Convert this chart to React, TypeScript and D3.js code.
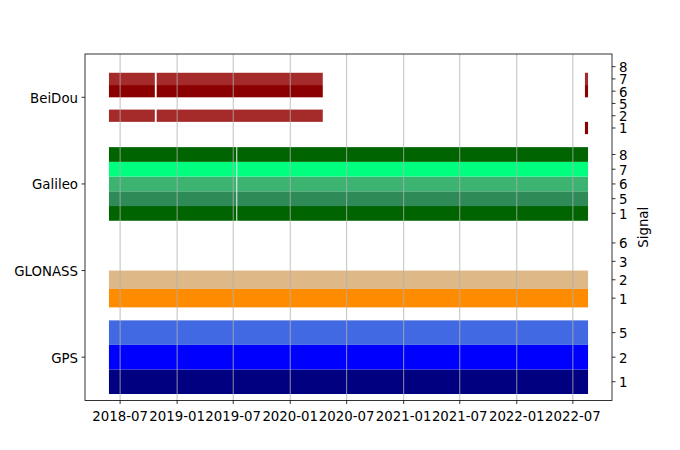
import React from "react";
import * as d3 from "d3";

const constellations = ["GPS", "GLONASS", "Galileo", "BeiDou"];

const gpsSignals = ["1", "2", "5"];
const glonassSignals = ["1", "2", "3", "6"];
const galileoSignals = ["1", "5", "6", "7", "8"];
const beidouSignals = ["1", "2", "5", "6", "7", "8"];

const gpsColors = ["#000080", "#0000ff", "#4169e1"];
const glonassColors = ["#ff8c00", "#deb887", "#cccccc", "#cccccc"];
const galileoColors = ["#006400", "#2e8b57", "#3cb371", "#00ff7f", "#006400"];
const beidouColors = ["#8b0000", "#a52a2a", "#cccccc", "#8b0000", "#a52a2a", "#cccccc"];

const fullPeriod = [["2018-05-26", "2022-08-19"]];
const galileoPeriods = [["2018-05-26", "2019-07-11"], ["2019-07-14", "2022-08-19"]];
const beidouEarly = [["2018-05-26", "2018-10-21"], ["2018-10-27", "2020-04-15"]];
const beidouLate = [["2022-08-09", "2022-08-19"]];
const none: string[][] = [];

const gpsPeriods = [fullPeriod, fullPeriod, fullPeriod];
const glonassPeriods = [fullPeriod, fullPeriod, none, none];
const galileoRowPeriods = [galileoPeriods, galileoPeriods, galileoPeriods, galileoPeriods, galileoPeriods];
const beidouPeriods = [beidouLate, beidouEarly, none, [...beidouEarly, ...beidouLate], [...beidouEarly, ...beidouLate], none];

const groupSignals = [gpsSignals, glonassSignals, galileoSignals, beidouSignals];
const groupColors = [gpsColors, glonassColors, galileoColors, beidouColors];
const groupPeriods = [gpsPeriods, glonassPeriods, galileoRowPeriods, beidouPeriods];

const W = 680, H = 450;
const L = 85, R = 612, T = 54, B = 400.5;
const BAND = 0.85;
const FONT = "DejaVu Sans, sans-serif";

export default function App() {
  const parse = d3.utcParse("%Y-%m-%d");
  const allDates: Date[] = [];
  groupPeriods.forEach(g => g.forEach(rows => rows.forEach(p => { allDates.push(parse(p[0])!); allDates.push(parse(p[1])!); })));
  const [dmin, dmax] = d3.extent(allDates) as [Date, Date];
  const pad = (dmax.getTime() - dmin.getTime()) * 0.05;
  const x = d3.scaleUtc().domain([new Date(dmin.getTime() - pad), new Date(dmax.getTime() + pad)]).range([L, R]);
  const y = d3.scaleLinear().domain([-0.5, constellations.length - 0.5]).range([B, T]);
  const xTicks = x.ticks(d3.utcMonth.every(6)!);
  const fmt = d3.utcFormat("%Y-%m");

  const rects: JSX.Element[] = [];
  const rightTicks: { y: number; label: string }[] = [];
  constellations.forEach((c, gi) => {
    const sigs = groupSignals[gi];
    const n = sigs.length;
    const bottom = gi - BAND / 2;
    const step = BAND / n;
    sigs.forEach((s, si) => {
      const y0 = bottom + si * step;
      const y1 = y0 + step;
      rightTicks.push({ y: y((y0 + y1) / 2), label: s });
      groupPeriods[gi][si].forEach((p, pi) => {
        const xa = x(parse(p[0])!);
        const xb = x(parse(p[1])!);
        rects.push(
          <rect key={`${gi}-${si}-${pi}`} x={xa} y={y(y1)} width={xb - xa} height={y(y0) - y(y1)} fill={groupColors[gi][si]} />
        );
      });
    });
  });

  return (
    <svg width={W} height={H} style={{ position: "absolute", left: 0, top: 0, background: "#fff" }} fontFamily={FONT}>
      <rect x={0} y={0} width={W} height={H} fill="#fff" />
      {rects}
      {xTicks.map((t, i) => (
        <line key={"g" + i} x1={x(t)} x2={x(t)} y1={T} y2={B} stroke="#b0b0b0" strokeWidth={0.8} />
      ))}
      <rect x={L} y={T} width={R - L} height={B - T} fill="none" stroke="#000" strokeWidth={0.8} />
      {xTicks.map((t, i) => (
        <g key={"x" + i}>
          <line x1={x(t)} x2={x(t)} y1={B} y2={B + 3.5} stroke="#000" strokeWidth={0.8} />
          <text x={x(t)} y={B + 20} textAnchor="middle" fontSize={13.33} fill="#000">{fmt(t)}</text>
        </g>
      ))}
      {constellations.map((c, i) => (
        <g key={"l" + i}>
          <line x1={L - 3.5} x2={L} y1={y(i)} y2={y(i)} stroke="#000" strokeWidth={0.8} />
          <text x={L - 7} y={y(i)} dy="0.4em" textAnchor="end" fontSize={13.33} fill="#000">{c}</text>
        </g>
      ))}
      {rightTicks.map((t, i) => (
        <g key={"r" + i}>
          <line x1={R} x2={R + 3.5} y1={t.y} y2={t.y} stroke="#000" strokeWidth={0.8} />
          <text x={R + 7} y={t.y} dy="0.4em" textAnchor="start" fontSize={13.33} fill="#000">{t.label}</text>
        </g>
      ))}
      <text transform={`translate(647.5,${(T + B) / 2}) rotate(-90)`} textAnchor="middle" fontSize={13.33} fill="#000">Signal</text>
    </svg>
  );
}
